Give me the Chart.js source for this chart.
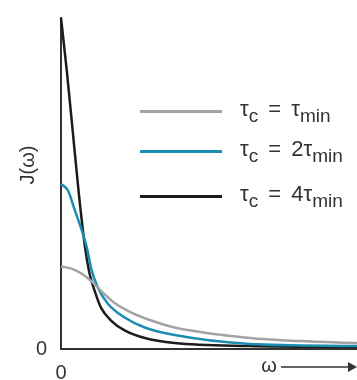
<!DOCTYPE html>
<html>
<head>
<meta charset="utf-8">
<script src="https://cdn.jsdelivr.net/npm/chart.js@4"></script>
<style>
  body { margin: 0; background: #fff; }
  #wrap { position: relative; width: 357px; height: 380px; }
  .leg { position: absolute; left: 140px; font: 22px "Liberation Sans", Arial, sans-serif; color: #333; }
  .leg i { position: absolute; left: 0; width: 82px; height: 3px; top: -1px; }
  .leg span { position: absolute; left: 100px; top: -15px; white-space: nowrap; word-spacing: 4px; }
  .leg sub { font-size: 19px; vertical-align: -6px; line-height: 0; }
</style>
</head>
<body>
<div id="wrap">
  <canvas id="c"></canvas>
  <div class="leg" style="top:111px"><i style="background:#a3a3a3"></i><span>τ<sub>c</sub> = τ<sub>min</sub></span></div>
  <div class="leg" style="top:151px"><i style="background:#1b8db1"></i><span>τ<sub>c</sub> = 2τ<sub>min</sub></span></div>
  <div class="leg" style="top:196px"><i style="background:#1c1c1c"></i><span>τ<sub>c</sub> = 4τ<sub>min</sub></span></div>
</div>
<script>
// spectral density J(ω) (x: ω 0..10, y: J relative to max)
const grayW  = [0, 0.35, 0.69, 1.02, 1.36, 1.81, 2.38, 3.05, 3.84, 6.39, 8.07, 10];
const grayJ  = [0.249, 0.243, 0.228, 0.205, 0.175, 0.139, 0.110, 0.086, 0.065, 0.033, 0.024, 0.018];
const blueW  = [0, 0.24, 0.46, 0.69, 0.89, 1.02, 1.25, 1.59, 2.15, 2.83, 3.84, 6.39, 10];
const blueJ  = [0.499, 0.478, 0.421, 0.362, 0.300, 0.243, 0.184, 0.136, 0.095, 0.065, 0.042, 0.015, 0.009];
const blackW = [0, 0.20, 0.405, 0.60, 0.81, 0.97, 1.14, 1.35, 1.69, 2.15, 2.83, 3.84, 6.39, 10];
const blackJ = [1.0, 0.837, 0.650, 0.472, 0.309, 0.226, 0.175, 0.125, 0.086, 0.056, 0.033, 0.018, 0.009, 0.006];

const pts = (w, j) => w.map((x, i) => ({ x: x, y: j[i] }));
const FONT = '"Liberation Sans", Arial, sans-serif';

const labels = {
  id: "labels",
  afterDraw(chart) {
    const c = chart.ctx;
    c.save();
    c.fillStyle = "#333";
    c.font = "20px " + FONT;
    c.textAlign = "center";
    c.textBaseline = "middle";
    // y axis title
    c.translate(28, 165);
    c.rotate(-Math.PI / 2);
    c.fillText("J(ω)", 0, 0);
    c.restore();
    c.save();
    c.fillStyle = "#333";
    c.strokeStyle = "#333";
    c.font = "20px " + FONT;
    c.textAlign = "center";
    c.textBaseline = "middle";
    c.fillText("ω", 269, 366);
    c.lineWidth = 1.5;
    c.beginPath();
    c.moveTo(281, 367);
    c.lineTo(350, 367);
    c.stroke();
    c.beginPath();
    c.moveTo(357, 367);
    c.lineTo(348, 362);
    c.lineTo(348, 372);
    c.closePath();
    c.fill();
    c.restore();
  }
};

const line = (data, color) => ({
  data: data, borderColor: color, borderWidth: 2.5, pointRadius: 0,
  cubicInterpolationMode: "monotone", fill: false, clip: false
});

new Chart(document.getElementById("c"), {
  type: "line",
  data: {
    datasets: [
      line(pts(grayW, grayJ), "#a3a3a3"),
      line(pts(blueW, blueJ), "#1b8db1"),
      line(pts(blackW, blackJ), "#1c1c1c")
    ]
  },
  options: {
    responsive: true,
    maintainAspectRatio: false,
    animation: false,
    layout: { padding: { top: 12, right: 0, left: 0, bottom: 0 } },
    plugins: { legend: { display: false }, tooltip: { enabled: false } },
    scales: {
      x: {
        type: "linear", min: 0, max: 10,
        grid: { display: false },
        border: { display: true, color: "#333", width: 2 },
        afterBuildTicks: a => { a.ticks = [{ value: 0 }]; },
        afterFit: a => { a.height = 31; },
        ticks: { color: "#333", font: { family: FONT, size: 20 }, padding: 4, callback: () => "0" }
      },
      y: {
        min: 0, max: 1,
        grid: { display: false },
        border: { display: true, color: "#333", width: 2 },
        afterBuildTicks: a => { a.ticks = [{ value: 0 }]; },
        afterFit: a => { a.width = 61; },
        ticks: { color: "#333", font: { family: FONT, size: 20 }, padding: 6, callback: () => "0" }
      }
    }
  },
  plugins: [labels]
});
</script>
</body>
</html>
